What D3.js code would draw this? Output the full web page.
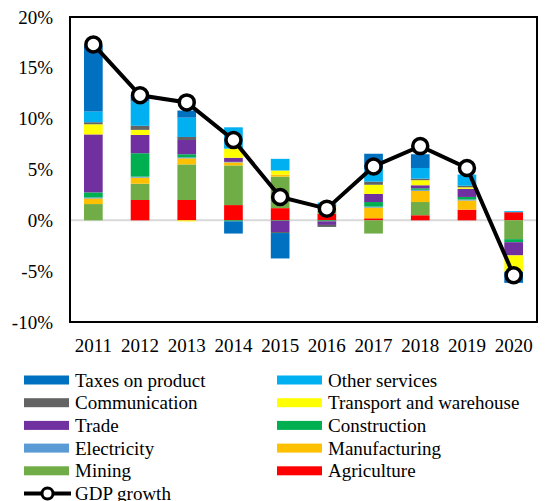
<!DOCTYPE html>
<html>
<head>
<meta charset="utf-8">
<script src="https://cdn.jsdelivr.net/npm/d3@7"></script>
<style>
  body { margin: 0; background: #fff; }
  text { font-family: "Liberation Serif", "Times New Roman", serif; fill: #000; }
</style>
</head>
<body>
<div id="vis"></div>
<script>
var years = ['2011', '2012', '2013', '2014', '2015', '2016', '2017', '2018', '2019', '2020'];

// contributions to growth, percentage points (stack order bottom -> top)
var agriculture   = [0, 2.0, 2.0, 1.5, 1.2, 0.65, 0.2, 0.5, 1.05, 0.8];
var mining        = [1.6, 1.6, 3.5, 3.9, 3.1, 0.3, -1.3, 1.3, 0, -1.85];
var manufacturing = [0.55, 0.6, 0.6, 0.3, 0.2, 0.2, 1.05, 1.1, 0.9, 0];
var electricity   = [0.1, 0.1, 0.1, 0.05, 0, 0, 0.1, 0.1, 0.1, 0];
var construction  = [0.5, 2.3, 0.3, -0.1, -0.05, -0.1, 0.45, 0.15, 0.25, -0.3];
var trade         = [5.7, 1.8, 1.4, 0.4, -1.1, -0.35, 0.8, 0.3, 0.8, -1.3];
var transport     = [1.0, 0.5, -0.1, 0.9, 0.4, 0.2, 0.9, 0.5, 0.15, -1.6];
var communication = [0.2, 0.4, 0.3, 0, -0.1, -0.2, 0.3, 0.15, 0.15, 0];
var otherServices = [1.05, 2.4, 1.9, 2.1, 1.15, 0.4, 1.2, 1.05, 1.1, 0.1];
var taxes         = [6.5, 0.6, 0.7, -1.2, -2.5, 0, 1.55, 1.35, 0, -1.1];
var gdpGrowth     = [17.3, 12.3, 11.6, 7.9, 2.3, 1.15, 5.3, 7.3, 5.15, -5.4];

var yTicks = [-10, -5, 0, 5, 10, 15, 20];

var series = [
  { key: 'Agriculture', values: agriculture, color: '#FF0000' },
  { key: 'Mining', values: mining, color: '#70AD47' },
  { key: 'Manufacturing', values: manufacturing, color: '#FFC000' },
  { key: 'Electricity', values: electricity, color: '#5B9BD5' },
  { key: 'Construction', values: construction, color: '#00B050' },
  { key: 'Trade', values: trade, color: '#7030A0' },
  { key: 'Transport and warehouse', values: transport, color: '#FFFF00' },
  { key: 'Communication', values: communication, color: '#636363' },
  { key: 'Other services', values: otherServices, color: '#00B0F0' },
  { key: 'Taxes on product', values: taxes, color: '#0070C0' }
];

var width = 548;
var height = 501;
var plot = { left: 70, right: 537, top: 17, bottom: 322 };

var svg = d3.select('#vis')
  .append('svg')
  .attr('width', width)
  .attr('height', height);

var x = d3.scaleBand()
  .domain(years)
  .range([plot.left, plot.right])
  .paddingInner(0.6)
  .paddingOuter(0.3);

var y = d3.scaleLinear()
  .domain([-10, 20])
  .range([plot.bottom, plot.top]);

var rows = years.map(function (yr, i) {
  var row = { year: yr };
  series.forEach(function (s) { row[s.key] = s.values[i]; });
  return row;
});

var stack = d3.stack()
  .keys(series.map(function (s) { return s.key; }))
  .offset(d3.stackOffsetDiverging);

var layers = stack(rows);
var colorOf = {};
series.forEach(function (s) { colorOf[s.key] = s.color; });

// zero line
svg.append('line')
  .attr('x1', plot.left)
  .attr('x2', plot.right)
  .attr('y1', y(0))
  .attr('y2', y(0))
  .attr('stroke', '#D9D9D9')
  .attr('stroke-width', 2);

svg.append('g')
  .selectAll('g')
  .data(layers)
  .enter()
  .append('g')
  .attr('fill', function (d) { return colorOf[d.key]; })
  .selectAll('rect')
  .data(function (d) { return d; })
  .enter()
  .append('rect')
  .attr('x', function (d) { return x(d.data.year); })
  .attr('width', x.bandwidth())
  .attr('y', function (d) { return y(Math.max(d[0], d[1])); })
  .attr('height', function (d) { return Math.abs(y(d[0]) - y(d[1])); });

// GDP line
var line = d3.line()
  .x(function (d, i) { return x(years[i]) + x.bandwidth() / 2; })
  .y(function (d) { return y(d); });

svg.append('path')
  .datum(gdpGrowth)
  .attr('d', line)
  .attr('fill', 'none')
  .attr('stroke', '#000')
  .attr('stroke-width', 4);

svg.selectAll('.dot')
  .data(gdpGrowth)
  .enter()
  .append('circle')
  .attr('class', 'dot')
  .attr('cx', function (d, i) { return x(years[i]) + x.bandwidth() / 2; })
  .attr('cy', function (d) { return y(d); })
  .attr('r', 7.5)
  .attr('fill', '#fff')
  .attr('stroke', '#000')
  .attr('stroke-width', 3.5);

// plot frame
svg.append('rect')
  .attr('x', plot.left)
  .attr('y', plot.top)
  .attr('width', plot.right - plot.left)
  .attr('height', plot.bottom - plot.top)
  .attr('fill', 'none')
  .attr('stroke', '#000')
  .attr('stroke-width', 2);

// y labels
svg.append('g')
  .selectAll('text')
  .data(yTicks)
  .enter()
  .append('text')
  .attr('x', 53)
  .attr('y', function (d) { return y(d); })
  .attr('dy', '0.35em')
  .attr('text-anchor', 'end')
  .style('font-size', '19px')
  .text(function (d) { return d + '%'; });

// x labels
svg.append('g')
  .selectAll('text')
  .data(years)
  .enter()
  .append('text')
  .attr('x', function (d) { return x(d) + x.bandwidth() / 2; })
  .attr('y', 352)
  .attr('text-anchor', 'middle')
  .style('font-size', '19px')
  .text(function (d) { return d; });

// legend
var legendOrder = ['Taxes on product', 'Other services', 'Communication', 'Transport and warehouse',
  'Trade', 'Construction', 'Electricity', 'Manufacturing', 'Mining', 'Agriculture'];
var rowStep = 22.7;

var legendItems = svg.append('g')
  .selectAll('g')
  .data(legendOrder)
  .enter()
  .append('g')
  .attr('transform', function (d, i) {
    var lx = i % 2 === 0 ? 24 : 277;
    var ly = 380 + Math.floor(i / 2) * rowStep;
    return 'translate(' + lx + ',' + ly + ')';
  });

legendItems.append('rect')
  .attr('x', 0)
  .attr('y', -4.5)
  .attr('width', 45)
  .attr('height', 9)
  .attr('fill', function (d) { return colorOf[d]; });

legendItems.append('text')
  .attr('x', 51)
  .attr('dy', '0.35em')
  .style('font-size', '19px')
  .text(function (d) { return d; });

var gdpLegend = svg.append('g')
  .attr('transform', 'translate(24,' + (380 + 5 * rowStep) + ')');

gdpLegend.append('line')
  .attr('x1', 0)
  .attr('x2', 47)
  .attr('stroke', '#000')
  .attr('stroke-width', 4);

gdpLegend.append('circle')
  .attr('cx', 23.5)
  .attr('r', 5.5)
  .attr('fill', '#fff')
  .attr('stroke', '#000')
  .attr('stroke-width', 3);

gdpLegend.append('text')
  .attr('x', 51)
  .attr('dy', '0.35em')
  .style('font-size', '19px')
  .text('GDP growth');
</script>
</body>
</html>
